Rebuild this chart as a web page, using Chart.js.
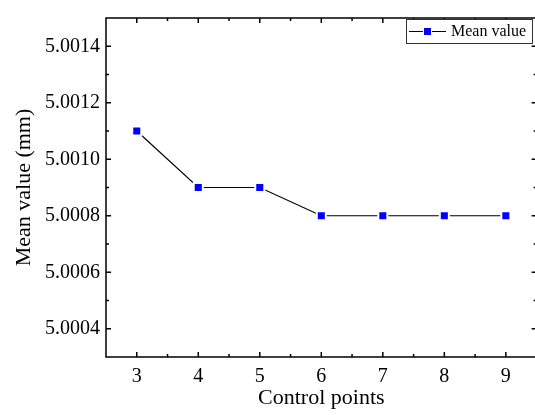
<!DOCTYPE html>
<html>
<head>
<meta charset="utf-8">
<script src="https://cdn.jsdelivr.net/npm/chart.js@4"></script>
<style>
  html, body { margin: 0; padding: 0; overflow: hidden; background: #fff; }
  canvas { display: block; }
</style>
</head>
<body>
<canvas id="chart" width="545" height="415"></canvas>
<script>
// values
const controlPoints = [3, 4, 5, 6, 7, 8, 9];
const meanValues = [5.0011, 5.0009, 5.0009, 5.0008, 5.0008, 5.0008, 5.0008];
const xTicks = [3, 4, 5, 6, 7, 8, 9];
const yTicks = [5.0004, 5.0006, 5.0008, 5.0010, 5.0012, 5.0014];

const serif = "'Liberation Serif', 'Times New Roman', serif";

// Origin-style box with inward major / minor ticks on all four sides
const frameTicks = {
  id: "frameTicks",
  afterDraw(chart) {
    const { ctx, chartArea: a, scales } = chart;
    const xs = scales.x, ys = scales.y;
    ctx.save();
    ctx.strokeStyle = "#000";
    ctx.lineWidth = 1.5;
    ctx.strokeRect(a.left, a.top, a.right - a.left, a.bottom - a.top);

    const major = 5, minor = 3;
    ctx.beginPath();
    for (let v = xs.min; v <= xs.max + 1e-9; v += 0.5) {
      const px = xs.getPixelForValue(v);
      const len = xTicks.includes(v) ? major : minor;
      if (v === xs.min || v === xs.max) continue;
      ctx.moveTo(px, a.bottom); ctx.lineTo(px, a.bottom - len);
      ctx.moveTo(px, a.top); ctx.lineTo(px, a.top + len);
    }
    for (let i = 1; i < 12; i++) {
      const v = ys.min + i * 0.0001;
      const py = ys.getPixelForValue(v);
      const len = i % 2 === 1 ? major : minor;
      ctx.moveTo(a.left, py); ctx.lineTo(a.left + len, py);
      ctx.moveTo(a.right, py); ctx.lineTo(a.right - len, py);
    }
    ctx.stroke();
    ctx.restore();
  }
};

// boxed legend: line - square - line, then label
const boxLegend = {
  id: "boxLegend",
  afterDraw(chart) {
    const ctx = chart.ctx;
    const ds = chart.data.datasets[0];
    ctx.save();
    ctx.fillStyle = "#fff";
    ctx.fillRect(406.5, 19.5, 126, 24);
    ctx.strokeStyle = "#333";
    ctx.lineWidth = 1;
    ctx.strokeRect(406.5, 19.5, 126, 24);
    ctx.strokeStyle = "#000";
    ctx.beginPath();
    ctx.moveTo(409, 31.5); ctx.lineTo(423, 31.5);
    ctx.moveTo(432, 31.5); ctx.lineTo(446, 31.5);
    ctx.stroke();
    ctx.fillStyle = ds.pointBackgroundColor;
    ctx.fillRect(424, 28, 7, 7);
    ctx.fillStyle = "#000";
    ctx.font = "16px " + serif;
    ctx.textBaseline = "middle";
    ctx.fillText(ds.label, 451, 32);
    ctx.restore();
  }
};

const ctx = document.getElementById("chart").getContext("2d");

new Chart(ctx, {
  type: "line",
  data: {
    datasets: [
      {
        label: "Mean value",
        data: controlPoints.map((x, i) => ({ x: x, y: meanValues[i] })),
        borderColor: "#000",
        borderWidth: 1.2,
        pointStyle: "rect",
        pointRadius: 6.4,
        pointHoverRadius: 6.4,
        pointBackgroundColor: "#0000ff",
        pointBorderColor: "#fff",
        pointBorderWidth: 2,
        tension: 0,
      }
    ]
  },
  options: {
    responsive: false,
    animation: false,
    devicePixelRatio: 1,
    layout: { padding: { top: 8, right: 7, left: 0, bottom: 0 } },
    plugins: {
      legend: { display: false },
      tooltip: { enabled: false },
    },
    scales: {
      x: {
        type: "linear",
        min: 2.5,
        max: 9.5,
        afterBuildTicks: (scale) => { scale.ticks = xTicks.map(v => ({ value: v })); },
        afterFit: (scale) => { scale.height = 58; },
        grid: { display: false, drawTicks: false },
        border: { display: false },
        ticks: {
          padding: 8,
          color: "#000",
          font: { family: serif, size: 20 },
          maxRotation: 0,
        },
        title: {
          display: true,
          text: "Control points",
          color: "#000",
          font: { family: serif, size: 22 },
          padding: { top: 0, bottom: 4 },
        }
      },
      y: {
        type: "linear",
        min: 5.0003,
        max: 5.0015,
        afterBuildTicks: (scale) => { scale.ticks = yTicks.map(v => ({ value: v })); },
        afterFit: (scale) => { scale.width = 106; },
        grid: { display: false, drawTicks: false },
        border: { display: false },
        ticks: {
          padding: 6,
          color: "#000",
          font: { family: serif, size: 20 },
          callback: (value) => value.toFixed(4),
        },
        title: {
          display: true,
          text: "Mean value (mm)",
          color: "#000",
          font: { family: serif, size: 22 },
          padding: { top: 11, bottom: 0 },
        }
      }
    }
  },
  plugins: [frameTicks, boxLegend]
});
</script>
</body>
</html>
